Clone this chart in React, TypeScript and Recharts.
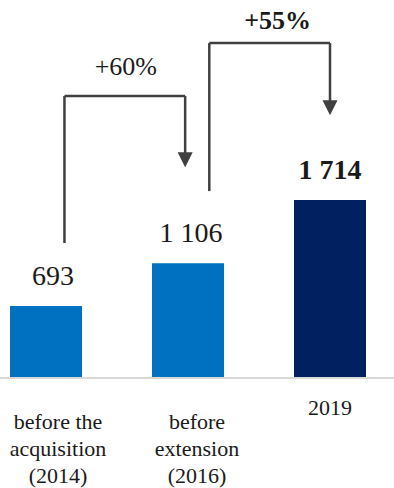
import { BarChart, Bar, XAxis, YAxis, Cell, LabelList, ReferenceLine } from 'recharts';

const CATEGORIES = ['before the\nacquisition\n(2014)', 'before\nextension\n(2016)', '2019'];
const VALUES = [693, 1106, 1714];
const VALUE_LABELS = ['693', '1 106', '1 714'];
const BAR_COLORS = ['#0070c0', '#0070c0', '#002060'];

// growth connectors, in data units (x = category index, y = value)
const GROWTH_LABELS = ['+60%', '+55%'];
const GROWTH_START_X = [0.13, 1.15];
const GROWTH_END_X = [0.98, 2.0];
const GROWTH_START_Y = [1300, 1800];
const GROWTH_TOP_Y = [2715, 3225];
const GROWTH_END_Y = [2030, 2530];

const FONT = 'Liberation Serif';
const TEXT = '#1a1a1a';
const ARROW = '#404040';

// small nudges so the text sits where the original puts it
const TICK_DX = [12, 9, 0];
const VALUE_DX = [7, 3, 0];
const GROWTH_DX = [1, 8];
const GROWTH_DY = [21, 14];

const data = CATEGORIES.map((name, i) => ({ idx: i, name, value: VALUES[i], label: VALUE_LABELS[i] }));

const CategoryTick = (p: any) => {
  const { x, y, payload } = p;
  const i = Number(payload.value);
  const lines = (CATEGORIES[i] || '').split('\n');
  const first = lines.length > 1 ? 51 : 37;
  return (
    <text textAnchor="middle" fill={TEXT} style={{ fontFamily: FONT, fontSize: 22 }}>
      {lines.map((l, k) => (
        <tspan key={k} x={x + (TICK_DX[i] || 0)} y={y + first + k * 27} style={{ fontFamily: FONT }}>
          {l}
        </tspan>
      ))}
    </text>
  );
};

const ValueLabel = (p: any) => {
  const { x, y, width, value } = p;
  const i = VALUE_LABELS.indexOf(value);
  return (
    <text
      x={x + width / 2 + (VALUE_DX[i] || 0)}
      y={y - 21}
      textAnchor="middle"
      fill={TEXT}
      style={{ fontFamily: FONT, fontSize: 28, fontWeight: i === VALUE_LABELS.length - 1 ? 'bold' : 'normal' }}
    >
      {value}
    </text>
  );
};

const plainSegment = (p: any) => (
  <line x1={p.x1} y1={p.y1} x2={p.x2} y2={p.y2} stroke={ARROW} strokeWidth={2.5} />
);

const arrowSegment = (p: any) => (
  <g>
    <line x1={p.x1} y1={p.y1} x2={p.x2} y2={p.y2 - 14} stroke={ARROW} strokeWidth={2.5} />
    <polygon points={`${p.x2 - 7.5},${p.y2 - 15} ${p.x2 + 7.5},${p.y2 - 15} ${p.x2},${p.y2}`} fill={ARROW} />
  </g>
);

const topSegment = (i: number) => (p: any) => (
  <g>
    <line x1={p.x1} y1={p.y1} x2={p.x2} y2={p.y2} stroke={ARROW} strokeWidth={2.5} />
    <text
      x={(p.x1 + p.x2) / 2 + GROWTH_DX[i]}
      y={p.y1 - GROWTH_DY[i]}
      textAnchor="middle"
      fill={TEXT}
      style={{ fontFamily: FONT, fontSize: 26, fontWeight: i === 1 ? 'bold' : 'normal' }}
    >
      {GROWTH_LABELS[i]}
    </text>
  </g>
);

export default function App() {
  return (
    <div style={{ position: 'absolute', left: 0, top: 0, width: 394, height: 488, overflow: 'hidden', background: '#fff', fontFamily: FONT }}>
      <div style={{ position: 'absolute', left: -25, top: 0 }}>
        <BarChart width={426} height={488} data={data} margin={{ top: 0, right: 0, bottom: 0, left: 0 }}>
          <XAxis
            dataKey="idx"
            type="number"
            scale="linear"
            domain={[-0.5, 2.5]}
            allowDataOverflow
            ticks={[0, 1, 2]}
            height={110}
            tickLine={false}
            tickSize={0}
            tickMargin={0}
            axisLine={{ stroke: '#d9d9d9', strokeWidth: 2 }}
            tick={<CategoryTick />}
            interval={0}
          />
          <YAxis hide domain={[0, 3640]} allowDataOverflow />
          <Bar dataKey="value" barSize={72} isAnimationActive={false}>
            {data.map((_, i) => (
              <Cell key={i} fill={BAR_COLORS[i]} />
            ))}
            <LabelList dataKey="label" content={<ValueLabel />} />
          </Bar>
          {GROWTH_LABELS.map((_, i) => [
            <ReferenceLine
              key={`up-${i}`}
              segment={[
                { x: GROWTH_START_X[i], y: GROWTH_START_Y[i] },
                { x: GROWTH_START_X[i], y: GROWTH_TOP_Y[i] },
              ]}
              shape={plainSegment}
            />,
            <ReferenceLine
              key={`top-${i}`}
              segment={[
                { x: GROWTH_START_X[i], y: GROWTH_TOP_Y[i] },
                { x: GROWTH_END_X[i], y: GROWTH_TOP_Y[i] },
              ]}
              shape={topSegment(i)}
            />,
            <ReferenceLine
              key={`down-${i}`}
              segment={[
                { x: GROWTH_END_X[i], y: GROWTH_TOP_Y[i] },
                { x: GROWTH_END_X[i], y: GROWTH_END_Y[i] },
              ]}
              shape={arrowSegment}
            />,
          ])}
        </BarChart>
      </div>
    </div>
  );
}
